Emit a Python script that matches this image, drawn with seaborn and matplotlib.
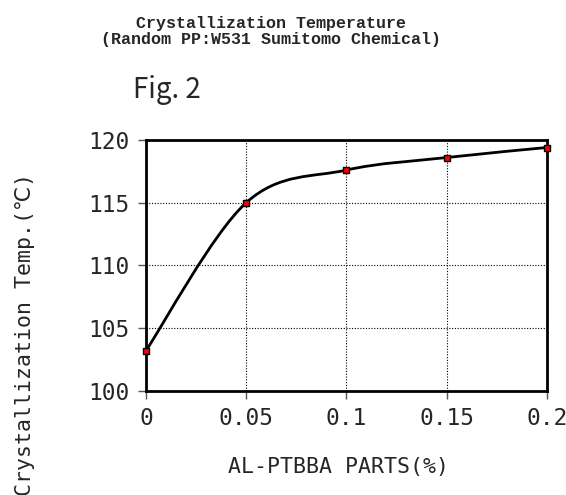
import matplotlib
matplotlib.use("Agg")
import matplotlib.pyplot as plt
import seaborn as sns
import numpy as np
import pandas as pd
from matplotlib.path import Path
from matplotlib.patches import PathPatch

parts = [0.0, 0.05, 0.10, 0.15, 0.20]
temps = [103.2, 115.0, 117.6, 118.6, 119.4]
xticks = [0, 0.05, 0.1, 0.15, 0.2]
xticklabels = ["0", "0.05", "0.1", "0.15", "0.2"]
yticks = [100, 105, 110, 115, 120]

sns.set_theme(style="white")
plt.rcParams['font.family'] = ['DejaVu Sans Mono', 'DejaVu Sans']

fig = plt.figure(figsize=(5.66, 4.95), dpi=100)
ax = fig.add_axes([0.258, 0.2107, 0.708, 0.5065])

df = pd.DataFrame({"x": parts, "y": temps})

# Excel-style smoothed line (Bezier through the data points)
pts = np.column_stack([df["x"], df["y"]])
verts = [tuple(pts[0])]
codes = [Path.MOVETO]
n = len(pts)
for i in range(n - 1):
    p_prev = pts[i - 1] if i > 0 else pts[i]
    p0 = pts[i]
    p1 = pts[i + 1]
    p_next = pts[i + 2] if i + 2 < n else pts[i + 1]
    c1 = p0 + (p1 - p_prev) / 6.0
    c2 = p1 - (p_next - p0) / 6.0
    verts += [tuple(c1), tuple(c2), tuple(p1)]
    codes += [Path.CURVE4] * 3
ax.add_patch(PathPatch(Path(verts, codes), facecolor='none', edgecolor='black',
                       lw=2.0, zorder=3))

sns.scatterplot(data=df, x="x", y="y", ax=ax, marker='s', color='red',
                edgecolor='black', linewidth=1.0, s=24, zorder=4, clip_on=False)

ax.set_xlim(0, 0.2)
ax.set_ylim(100, 120)
ax.set_xticks(xticks)
ax.set_xticklabels(xticklabels)
ax.set_yticks(yticks)
ax.grid(True, color='black', linestyle=(0, (1, 1.5)), linewidth=0.8)
for s in ax.spines.values():
    s.set_visible(True)
    s.set_color('black')
    s.set_linewidth(2.0)
ax.tick_params(axis='both', which='major', direction='out', length=6, width=1,
               color='#555555', labelsize=16.5, pad=6, left=True, bottom=True)
ax.set_xlabel("")
ax.set_ylabel("")

fig.text(338 / 566, 1 - 467 / 495, "AL-PTBBA PARTS(%)", ha='center', va='center',
         fontsize=15.5)
fig.text(25 / 566, 1 - 334 / 495, "Crystallization Temp.(℃)", ha='center',
         va='center', rotation=90, fontsize=15.5)

fig.text(271 / 566, 1 - 31.5 / 495, "Crystallization Temperature\n(Random PP:W531 Sumitomo Chemical)",
         ha='center', va='center', fontsize=12, family='Liberation Mono',
         fontweight='bold', linespacing=1.1)
fig.text(0.235, 1 - 90 / 495, "Fig. 2", ha='left', va='center', fontsize=20,
         family=['Noto Sans CJK JP', 'DejaVu Sans'])

fig.savefig("out.png", dpi=100)
